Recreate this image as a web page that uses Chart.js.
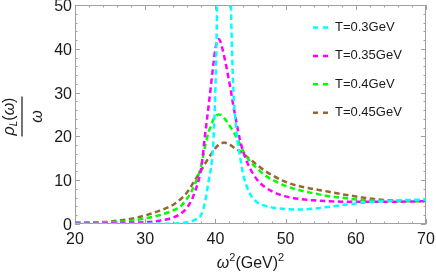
<!DOCTYPE html>
<html>
<head>
<meta charset="utf-8">
<script src="https://cdn.jsdelivr.net/npm/chart.js@4.4.0/dist/chart.umd.min.js"></script>
<style>
  body { margin: 0; background: #fff; }
</style>
</head>
<body>
<canvas id="rhoChart" width="436" height="278"></canvas>
<script>
// omega^2 sample points (GeV^2)
var omega2 = [20, 22, 24, 26, 28, 30, 32, 34, 35, 36, 37, 38, 38.5, 39, 39.5, 39.75,
  40, 40.25, 40.5, 40.75, 41, 41.25, 41.5, 41.75, 42, 42.25, 42.5, 43, 43.5, 44,
  45, 46, 47, 48, 50, 52, 54, 56, 58, 60, 62, 64, 66, 68, 70];

// rho_L(omega)/omega
var T030 = [0.01, 0.01, 0.01, 0.02, 0.02, 0.03, 0.05, 0.1, 0.2, 0.4, 0.9, 2.2, 4.8, 9.5, 14.5, 20,
  31, 52, 100, 160, 200, 200, 160, 100, 65, 47, 33, 21, 15.5, 11,
  6.7, 4.9, 4.2, 3.8, 3.4, 3.3, 3.5, 3.9, 4.3, 4.7, 5.0, 5.2, 5.4, 5.5, 5.6];
var T035 = [0.1, 0.12, 0.15, 0.2, 0.28, 0.4, 0.75, 1.5, 2.3, 3.8, 7, 13, 20, 26.5, 33.5, 37,
  40, 41.8, 42.2, 41.5, 40, 38.3, 36.4, 34.3, 32.2, 30, 27.5, 23.2, 19.2, 16.3,
  12.5, 10, 8.5, 7.5, 6.3, 5.7, 5.4, 5.2, 5.1, 5.1, 5.1, 5.1, 5.1, 5.15, 5.2];
var T040 = [0.15, 0.25, 0.35, 0.5, 0.75, 1.3, 2.0, 3.1, 4.0, 5.9, 8.8, 13.5, 17.5, 20.8, 23, 24,
  24.6, 24.9, 25, 24.9, 24.6, 24.2, 23.7, 23.1, 22.5, 21.9, 21.3, 19.8, 18.2, 16.5,
  14.2, 12.6, 11.2, 10.2, 8.7, 7.7, 7.0, 6.4, 6.0, 5.6, 5.4, 5.3, 5.2, 5.2, 5.2];
var T045 = [0.3, 0.35, 0.45, 0.75, 1.2, 1.95, 3.0, 4.4, 5.6, 7.3, 9.8, 12.3, 13.7, 15.0, 16.2, 16.8,
  17.3, 17.8, 18.1, 18.4, 18.5, 18.6, 18.5, 18.3, 18.1, 17.9, 17.6, 17.1, 16.6, 16.0,
  14.7, 13.4, 12.2, 11.2, 9.6, 8.6, 8.0, 7.4, 6.8, 6.3, 5.8, 5.5, 5.35, 5.3, 5.3];

var seriesLabels = ['T=0.3GeV', 'T=0.35GeV', 'T=0.4GeV', 'T=0.45GeV'];
var seriesColors = ['#00ffff', '#ff00ff', '#00ff00', '#996633'];
var seriesValues = [T030, T035, T040, T045];

var FONT = "'Liberation Sans', Arial, sans-serif";

function makeSet(i) {
  return {
    label: seriesLabels[i],
    data: omega2.map(function (x, k) { return { x: x, y: seriesValues[i][k] }; }),
    borderColor: seriesColors[i],
    borderWidth: 2.5,
    borderDash: [5.5, 3.5],
    pointRadius: 0,
    fill: false,
    cubicInterpolationMode: 'monotone'
  };
}

// frame with inward ticks, y tick labels, legend and axis titles
var decor = {
  id: 'decor',
  beforeDatasetsDraw: function (chart) {
    var ctx = chart.ctx, a = chart.chartArea;
    var sx = chart.scales.x, sy = chart.scales.y;
    ctx.save();
    ctx.strokeStyle = '#a0a0a0';
    ctx.lineWidth = 1;
    ctx.strokeRect(a.left + 0.5, a.top + 0.5, a.right - a.left - 1, a.bottom - a.top - 1);
    ctx.beginPath();
    for (var v = 20; v <= 70; v += 2) {
      var p = Math.round(sx.getPixelForValue(v)) + 0.5;
      var len = v % 10 === 0 ? 5 : 2.5;
      ctx.moveTo(p, a.bottom); ctx.lineTo(p, a.bottom - len);
      ctx.moveTo(p, a.top); ctx.lineTo(p, a.top + len);
    }
    for (var w = 0; w <= 50; w += 2) {
      var q = Math.round(sy.getPixelForValue(w)) + 0.5;
      var l2 = w % 10 === 0 ? 5 : 2.5;
      ctx.moveTo(a.left, q); ctx.lineTo(a.left + l2, q);
      ctx.moveTo(a.right, q); ctx.lineTo(a.right - l2, q);
    }
    ctx.stroke();

    // y tick labels, a bit lower than chart.js would put them
    ctx.fillStyle = '#1a1a1a';
    ctx.font = '16px ' + FONT;
    ctx.textAlign = 'right';
    ctx.textBaseline = 'middle';
    sy.ticks.forEach(function (t) {
      ctx.fillText(String(t.value), a.left - 3, sy.getPixelForValue(t.value) + 1.5);
    });
    ctx.restore();
  },
  afterDraw: function (chart) {
    var ctx = chart.ctx, a = chart.chartArea;
    ctx.save();
    // legend
    for (var i = 0; i < seriesLabels.length; i++) {
      var y = a.top + 22.5 + i * 28.4;
      ctx.strokeStyle = seriesColors[i];
      ctx.lineWidth = 2.5;
      ctx.setLineDash([5, 5]);
      ctx.beginPath();
      ctx.moveTo(a.right - 113, y);
      ctx.lineTo(a.right - 97, y);
      ctx.stroke();
      ctx.setLineDash([]);
      ctx.fillStyle = '#1a1a1a';
      ctx.font = '13px ' + FONT;
      ctx.textAlign = 'left';
      ctx.textBaseline = 'middle';
      ctx.fillText(seriesLabels[i], a.right - 91, y);
    }

    // x title: omega^2 (GeV)^2
    var parts = [
      ['italic 16px ' + FONT, '\u03c9', 0],
      ['11px ' + FONT, '2', -7],
      ['16px ' + FONT, '(GeV)', 0],
      ['11px ' + FONT, '2', -7]
    ];
    var total = 0;
    parts.forEach(function (p) { ctx.font = p[0]; total += ctx.measureText(p[1]).width; });
    var cx = (a.left + a.right) / 2 - total / 2;
    ctx.textAlign = 'left';
    ctx.textBaseline = 'alphabetic';
    ctx.fillStyle = '#1a1a1a';
    parts.forEach(function (p) {
      ctx.font = p[0];
      ctx.fillText(p[1], cx, 268 + p[2]);
      cx += ctx.measureText(p[1]).width;
    });

    // y title: rho_L(omega) / omega, rotated
    ctx.translate(22, (a.top + a.bottom) / 2 + 2);
    ctx.rotate(-Math.PI / 2);
    ctx.fillRect(-20, -0.6, 40, 1.2);
    var num = [
      ['italic 16px ' + FONT, '\u03c1', 0],
      ['italic 10px ' + FONT, 'L', 3.5],
      ['16px ' + FONT, '(', 0],
      ['italic 16px ' + FONT, '\u03c9', 0],
      ['16px ' + FONT, ')', 0]
    ];
    var nw = 0;
    num.forEach(function (p) { ctx.font = p[0]; nw += ctx.measureText(p[1]).width; });
    var ux = -nw / 2;
    num.forEach(function (p) {
      ctx.font = p[0];
      ctx.fillText(p[1], ux, -8.5 + p[2]);
      ux += ctx.measureText(p[1]).width;
    });
    ctx.font = 'italic 16px ' + FONT;
    ctx.textAlign = 'center';
    ctx.fillText('\u03c9', 0, 20);
    ctx.restore();
  }
};

var ctx1 = document.getElementById('rhoChart').getContext('2d');
var rhoChart = new Chart(ctx1, {
  type: 'line',
  data: { datasets: [makeSet(0), makeSet(1), makeSet(2), makeSet(3)] },
  options: {
    responsive: false,
    animation: false,
    layout: { padding: { top: 5, right: 10, left: 0, bottom: 0 } },
    plugins: { legend: { display: false }, tooltip: { enabled: false } },
    scales: {
      x: {
        type: 'linear',
        min: 20, max: 70,
        grid: { display: false, drawTicks: false },
        border: { display: false },
        ticks: { stepSize: 10, padding: 6, color: '#1a1a1a', font: { family: FONT, size: 16 }, maxRotation: 0 },
        afterFit: function (s) { s.height = 54; s.paddingLeft = 0; s.paddingRight = 0; }
      },
      y: {
        min: 0, max: 50,
        grid: { display: false, drawTicks: false },
        border: { display: false },
        ticks: { display: false, stepSize: 10 },
        afterFit: function (s) { s.width = 75; s.paddingTop = 0; s.paddingBottom = 0; }
      }
    }
  },
  plugins: [decor]
});
</script>
</body>
</html>
